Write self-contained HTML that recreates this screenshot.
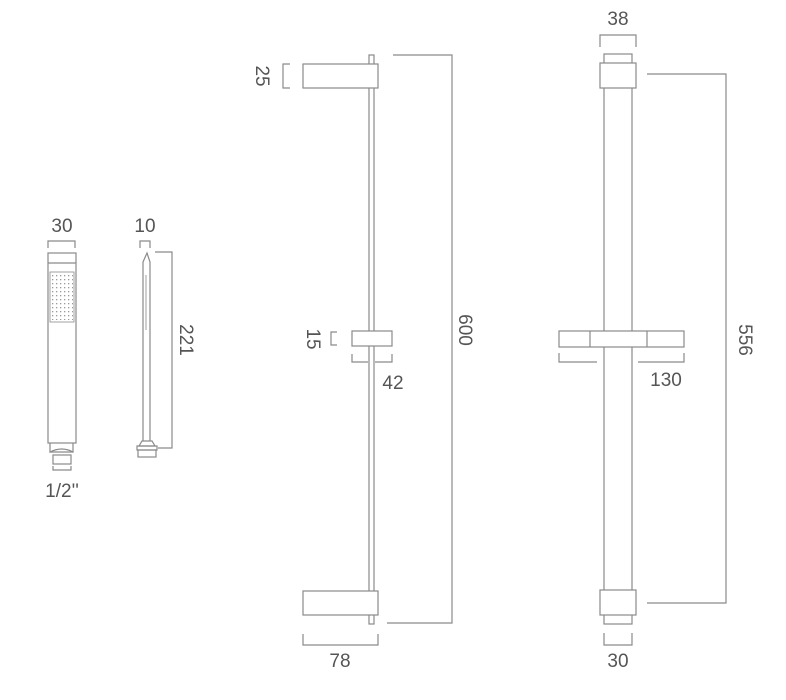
<!DOCTYPE html>
<html><head><style>
html,body{margin:0;padding:0;background:#fff;}
svg{display:block;}
text{font-family:"Liberation Sans",sans-serif;font-size:19px;fill:#555;}
</style></head><body>
<svg width="786" height="700" viewBox="0 0 786 700" xmlns="http://www.w3.org/2000/svg">
<defs>
<pattern id="d" x="52" y="275" width="4" height="4" patternUnits="userSpaceOnUse">
<rect x="0" y="0" width="1.3" height="1.3" fill="#999"/>
</pattern>
</defs>
<rect x="51" y="274" width="22" height="46" fill="url(#d)"/>
<g fill="none" stroke="#8a8a8a" stroke-width="1.2">
<!-- handset front -->
<rect x="48" y="253" width="28" height="190"/>
<line x1="48" y1="263" x2="76" y2="263"/>
<rect x="50" y="272" width="24" height="50" stroke-width="0.8"/>
<path d="M50 443 L50 452 Q62 446 73 452 L73 443"/>
<line x1="50" y1="452" x2="73" y2="452"/>
<rect x="53" y="455" width="18" height="9"/>
<path d="M48 248 V241 H75 V248"/>
<path d="M53 466 V470 H71 V466"/>
<!-- handset side -->
<path d="M143 441 V262 L147 253 L150 262 V441"/>
<line x1="146" y1="275" x2="146" y2="330" stroke-width="0.8"/>
<path d="M139 446 L142 441 H152 L155 446 Z"/>
<rect x="137" y="446" width="20" height="4"/>
<rect x="138" y="450" width="18" height="7"/>
<path d="M140 248 V241 H150 V248"/>
<path d="M155 252 H172 V448 H158"/>
<!-- middle rail -->
<rect x="369" y="55" width="5" height="569"/>
<rect x="303" y="64" width="75" height="24" fill="#fff"/>
<rect x="303" y="591" width="75" height="24" fill="#fff"/>
<rect x="352" y="331" width="40" height="15" fill="#fff"/>
<path d="M290 64 H283 V88 H290"/>
<path d="M337 332 H331 V345 H337"/>
<path d="M352 354 V362 H368 M375 362 H392 V354"/>
<path d="M303 634 V645 H378 V634"/>
<path d="M393 55 H452 V623 H387"/>
<!-- right rail -->
<rect x="604" y="54" width="28" height="570"/>
<rect x="600" y="63" width="36" height="25" fill="#fff"/>
<rect x="600" y="590" width="36" height="25" fill="#fff"/>
<rect x="559" y="331" width="125" height="16" fill="#fff"/>
<line x1="590" y1="331" x2="590" y2="347"/>
<line x1="647" y1="331" x2="647" y2="347"/>
<path d="M600 47 V35 H636 V47"/>
<path d="M604 633 V645 H632 V633"/>
<path d="M559 353 V362 H597 M638 362 H684 V353"/>
<path d="M647 74 H726 V603 H647"/>
</g>
<text x="62" y="232" text-anchor="middle">30</text>
<text x="145" y="232" text-anchor="middle">10</text>
<text x="62" y="497" text-anchor="middle">1/2''</text>
<text transform="translate(180,340) rotate(90)" text-anchor="middle">221</text>
<text transform="translate(256,76) rotate(90)" text-anchor="middle">25</text>
<text transform="translate(307,339) rotate(90)" text-anchor="middle">15</text>
<text x="393" y="389" text-anchor="middle">42</text>
<text transform="translate(459,330) rotate(90)" text-anchor="middle">600</text>
<text x="340" y="667" text-anchor="middle">78</text>
<text x="618" y="25" text-anchor="middle">38</text>
<text x="666" y="386" text-anchor="middle">130</text>
<text transform="translate(739,340) rotate(90)" text-anchor="middle">556</text>
<text x="618" y="667" text-anchor="middle">30</text>
</svg>
</body></html>
